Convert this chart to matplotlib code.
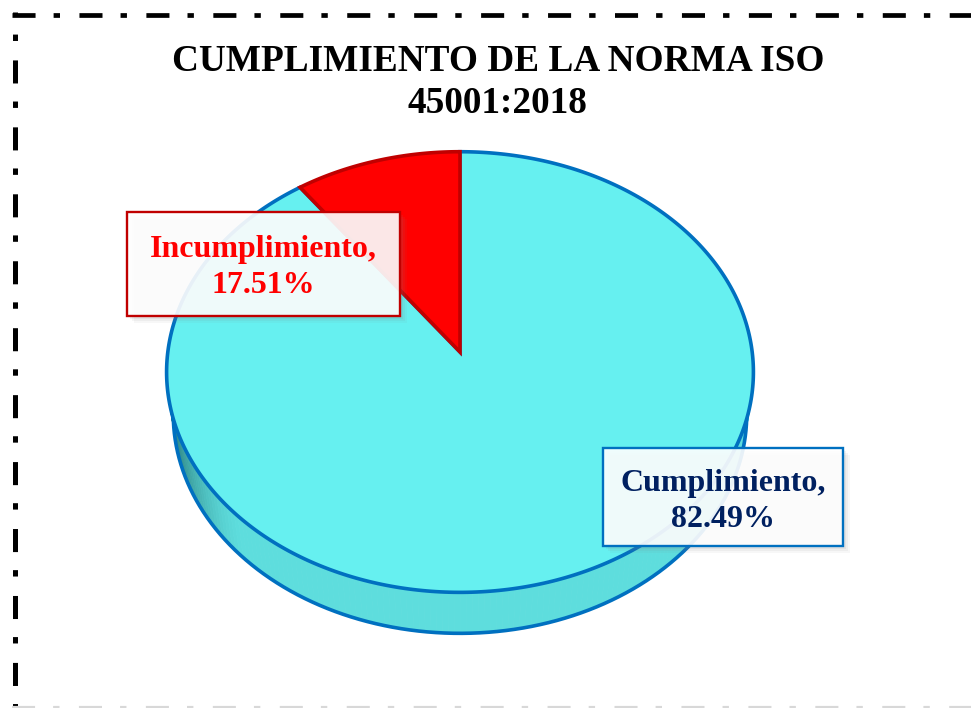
import numpy as np
import matplotlib.pyplot as plt
from matplotlib.patches import Polygon, Rectangle

plt.rcParams['lines.scale_dashes'] = False

# datos
categorias = ['Incumplimiento', 'Cumplimiento']
porcentajes = [17.51, 82.49]        # texto de las etiquetas
sector_dibujado = [10.0, 90.0]      # tamaño de los sectores tal como se ven en la imagen
colores = ['#FF0000', '#66F0F0']
bordes = ['#C00000', '#0070C0']
color_texto = ['#FF0000', '#002060']
titulo = ['CUMPLIMIENTO DE LA NORMA ISO', '45001:2018']

# proyeccion en perspectiva del pastel 3D (coordenadas en pixeles)
f, D, elev = 2133.0, 7.3, np.radians(48.4)
cx, cy = 460.0, 352.0
grosor = 0.2255


def proj(t, z=0.0):
    x = np.cos(t)
    y = np.sin(t)
    prof = D + y * np.cos(elev) - z * np.sin(elev)
    vert = y * np.sin(elev) + z * np.cos(elev)
    return cx + f * x / prof, cy - f * vert / prof


fig = plt.figure(figsize=(9.71, 7.08), dpi=100)
ax = fig.add_axes([0, 0, 1, 1])
ax.set_xlim(0, 971)
ax.set_ylim(708, 0)
ax.axis('off')

# limites de cada sector (empieza arriba, sentido antihorario)
fr = np.array(sector_dibujado) / sum(sector_dibujado)
inicio = np.pi / 2 + 2 * np.pi * np.concatenate([[0], np.cumsum(fr)[:-1]])
fin = inicio + 2 * np.pi * fr

# paredes laterales
claro = np.array([0x5e, 0xdd, 0xdd]) / 255
oscuro = np.array([0x22, 0x70, 0x70]) / 255
quads = []
for i in range(len(categorias)):
    ts = np.linspace(inicio[i], fin[i], 300)
    for a, b in zip(ts[:-1], ts[1:]):
        xa, ya = proj(a)
        xb, yb = proj(b)
        xc, yc = proj(b, -grosor)
        xd, yd = proj(a, -grosor)
        m = 0.5 * (a + b)
        if i == 0:
            col = np.array([0.7, 0.0, 0.0])
        else:
            k = np.clip((-np.cos(m) - 0.7) / 0.3, 0, 1) ** 1.6
            col = claro * (1 - k) + oscuro * k
        quads.append((np.sin(m), [(xa, ya), (xb, yb), (xc, yc), (xd, yd)], col))
quads.sort(key=lambda q: -q[0])
for _, pts, col in quads:
    ax.add_patch(Polygon(pts, closed=True, facecolor=col, edgecolor=col, lw=0.6,
                         zorder=1))

# borde inferior
tb = np.linspace(np.radians(150), np.radians(390), 300)
xb, yb = proj(tb, -grosor)
ax.plot(xb, yb, color='#0070C0', lw=2.6, solid_capstyle='round', zorder=1.5)

# cara superior
for i in [1, 0]:
    ts = np.linspace(inicio[i], fin[i], 400)
    xs, ys = proj(ts)
    pts = [(cx, cy)] + list(zip(xs, ys))
    ax.add_patch(Polygon(pts, closed=True, facecolor=colores[i],
                         edgecolor=bordes[i], lw=2.6, joinstyle='miter', zorder=2))

# etiquetas
cajas = [(127, 212, 273, 104), (603, 448, 240, 98)]
lineas_y = [(257, 293), (491, 527)]
for i, (x0, y0, w, hgt) in enumerate(cajas):
    for s, a in [(7, 0.06), (5, 0.08), (3, 0.10)]:
        ax.add_patch(Rectangle((x0 + s, y0 + s), w, hgt, facecolor='#808080',
                               edgecolor='none', alpha=a, zorder=3))
    ax.add_patch(Rectangle((x0, y0), w, hgt, facecolor='white', alpha=0.9,
                           edgecolor='none', zorder=3))
    ax.add_patch(Rectangle((x0, y0), w, hgt, facecolor='none',
                           edgecolor=bordes[i], lw=1.7, zorder=3))
    xm = x0 + w / 2
    ax.text(xm, lineas_y[i][0], categorias[i] + ',', ha='center', va='baseline',
            fontsize=23, fontweight='bold', family='Liberation Serif',
            color=color_texto[i], zorder=4)
    ax.text(xm, lineas_y[i][1], f'{porcentajes[i]:.2f}%', ha='center', va='baseline',
            fontsize=23, fontweight='bold', family='Liberation Serif',
            color=color_texto[i], zorder=4)

# titulo
ax.text(498, 71, titulo[0], ha='center', va='baseline', fontsize=26.8,
        fontweight='bold', family='Liberation Serif', color='black')
ax.text(497, 113, titulo[1], ha='center', va='baseline', fontsize=26.8,
        fontweight='bold', family='Liberation Serif', color='black')

# marco punteado
patron = (0, (16.6, 13.0, 4.6, 14.0))
ax.plot([12, 971], [15, 15], color='black', lw=3.4, ls=patron, dash_capstyle='butt')
ax.plot([14.5, 14.5], [12, 706], color='black', lw=3.6,
        ls=(13.7, (16.6, 13.0, 4.6, 14.0)), dash_capstyle='butt')
ax.plot([12, 971], [707.5, 707.5], color='#d8d8d8', lw=3.0, ls=patron,
        dash_capstyle='butt')

plt.savefig('out.png', dpi=100)
